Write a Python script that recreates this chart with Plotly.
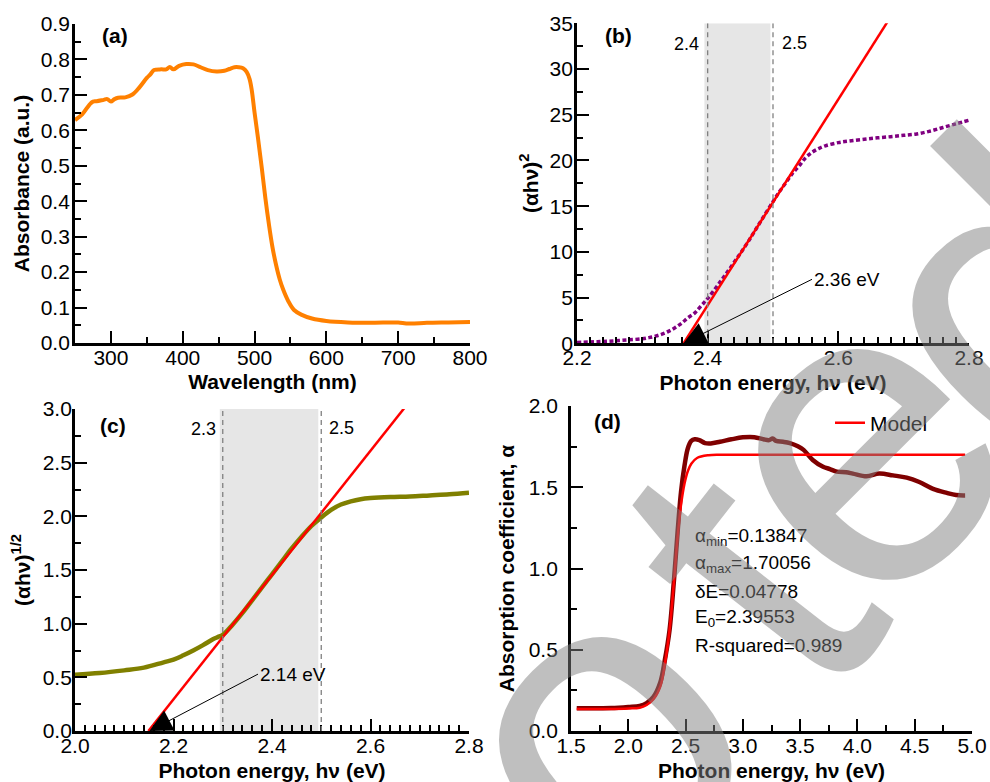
import plotly.graph_objects as go

# ---------------- data ----------------
# (a) absorbance spectrum
wl = [250, 260, 270, 275, 280, 290, 295, 300, 305, 310, 320, 330, 340, 350, 355, 360, 370, 377,
      382, 387, 395, 405, 415, 425, 435, 447, 458, 465, 472, 478, 484, 489, 493, 496, 500, 505,
      510, 515, 520, 525, 530, 535, 540, 547, 555, 565, 580, 600, 630, 660, 690, 700, 715, 740,
      770, 800]
absorb = [0.629, 0.645, 0.672, 0.681, 0.682, 0.686, 0.688, 0.681, 0.688, 0.692, 0.693, 0.701,
          0.722, 0.748, 0.758, 0.770, 0.772, 0.772, 0.779, 0.772, 0.782, 0.787, 0.786, 0.778,
          0.770, 0.766, 0.768, 0.773, 0.778, 0.778, 0.775, 0.765, 0.745, 0.715, 0.650, 0.575,
          0.495, 0.410, 0.335, 0.270, 0.220, 0.180, 0.150, 0.118, 0.093, 0.080, 0.069, 0.062,
          0.058, 0.057, 0.058, 0.058, 0.055, 0.057, 0.058, 0.059]

# (b) direct Tauc plot
e_b = [2.20, 2.22, 2.24, 2.26, 2.28, 2.30, 2.31, 2.32, 2.33, 2.34, 2.35, 2.36, 2.37, 2.38, 2.39,
       2.40, 2.42, 2.44, 2.46, 2.48, 2.50, 2.51, 2.52, 2.53, 2.54, 2.55, 2.56, 2.57, 2.58, 2.60,
       2.62, 2.65, 2.68, 2.70, 2.72, 2.74, 2.76, 2.78, 2.80]
tauc_b = [0.10, 0.15, 0.20, 0.28, 0.38, 0.50, 0.62, 0.78, 1.00, 1.30, 1.70, 2.20, 2.80, 3.30,
          4.10, 4.90, 6.80, 8.80, 10.90, 13.20, 15.50, 16.60, 17.60, 18.60, 19.40, 20.30, 20.90,
          21.30, 21.60, 21.95, 22.15, 22.40, 22.60, 22.75, 22.90, 23.20, 23.60, 24.00, 24.40]
fit_b_x = [2.363, 2.70]
fit_b_y = [0.0, 37.95]

# (c) indirect Tauc plot
e_c = [2.00, 2.05, 2.10, 2.14, 2.18, 2.20, 2.22, 2.24, 2.26, 2.28, 2.29, 2.30, 2.32, 2.34, 2.36,
       2.38, 2.40, 2.42, 2.44, 2.46, 2.48, 2.50, 2.52, 2.54, 2.56, 2.58, 2.60, 2.64, 2.68, 2.72,
       2.76, 2.80]
tauc_c = [0.525, 0.540, 0.565, 0.590, 0.640, 0.665, 0.705, 0.750, 0.800, 0.855, 0.875, 0.895,
          0.990, 1.100, 1.220, 1.340, 1.460, 1.580, 1.700, 1.810, 1.910, 1.990, 2.060, 2.110,
          2.140, 2.160, 2.170, 2.180, 2.185, 2.195, 2.205, 2.220]
fit_c_x = [2.149, 2.70]
fit_c_y = [0.0, 3.19]

# (d) absorption coefficient and sigmoid model
e_d = [1.55, 1.70, 1.85, 2.00, 2.10, 2.16, 2.22, 2.28, 2.32, 2.36, 2.40, 2.43, 2.46, 2.49, 2.52,
       2.55, 2.58, 2.62, 2.67, 2.72, 2.80, 2.90, 3.00, 3.10, 3.18, 3.23, 3.26, 3.29, 3.35, 3.41,
       3.48, 3.53, 3.61, 3.70, 3.76, 3.82, 3.90, 3.96, 4.08, 4.19, 4.31, 4.43, 4.54, 4.66, 4.78,
       4.86, 4.94]
alpha_d = [0.140, 0.140, 0.141, 0.148, 0.155, 0.172, 0.210, 0.300, 0.440, 0.620, 0.940, 1.220,
           1.470, 1.630, 1.740, 1.785, 1.795, 1.790, 1.772, 1.770, 1.780, 1.795, 1.807, 1.808,
           1.795, 1.790, 1.800, 1.785, 1.780, 1.772, 1.752, 1.730, 1.668, 1.626, 1.612, 1.596,
           1.592, 1.584, 1.567, 1.584, 1.573, 1.559, 1.532, 1.490, 1.465, 1.452, 1.450]
e_model = [1.55, 1.80, 2.00, 2.10, 2.16, 2.22, 2.28, 2.32, 2.36, 2.40, 2.43, 2.46, 2.49, 2.52,
           2.55, 2.60, 2.70, 2.80, 3.00, 4.00, 4.94]
alpha_model = [0.135, 0.136, 0.139, 0.143, 0.160, 0.195, 0.275, 0.415, 0.620, 0.930, 1.190,
               1.390, 1.520, 1.600, 1.645, 1.680, 1.697, 1.700, 1.7006, 1.7006, 1.7006]

fit_text = ["α<sub>min</sub>=0.13847", "α<sub>max</sub>=1.70056", "δE=0.04778",
            "E<sub>0</sub>=2.39553", "R-squared=0.989"]

# ---------------- figure ----------------
FONT = "Liberation Sans, Arial, sans-serif"
fig = go.Figure()

fig.add_trace(go.Scatter(x=wl, y=absorb, mode="lines", line=dict(color="#FF8000", width=4, shape="spline"),
                         xaxis="x", yaxis="y", showlegend=False))
fig.add_trace(go.Scatter(x=e_b, y=tauc_b, mode="lines",
                         line=dict(color="#800080", width=3.5, shape="spline", dash="4px,2.5px"),
                         xaxis="x2", yaxis="y2", showlegend=False))
fig.add_trace(go.Scatter(x=fit_b_x, y=fit_b_y, mode="lines", line=dict(color="#FF0000", width=2.5),
                         xaxis="x2", yaxis="y2", showlegend=False))
fig.add_trace(go.Scatter(x=e_c, y=tauc_c, mode="lines", line=dict(color="#808000", width=4.5, shape="spline"),
                         xaxis="x3", yaxis="y3", showlegend=False))
fig.add_trace(go.Scatter(x=fit_c_x, y=fit_c_y, mode="lines", line=dict(color="#FF0000", width=2.5),
                         xaxis="x3", yaxis="y3", showlegend=False))
fig.add_trace(go.Scatter(x=e_d, y=alpha_d, mode="lines", line=dict(color="#7F0000", width=4.5, shape="spline"),
                         xaxis="x4", yaxis="y4", showlegend=False))
fig.add_trace(go.Scatter(x=e_model, y=alpha_model, mode="lines", name="Model",
                         line=dict(color="#FF0000", width=2.5, shape="spline"),
                         xaxis="x4", yaxis="y4", showlegend=True))


def axis(domain, rng, dtick, minor, fmt, title, anchor, tsize=21, standoff=4, lstand=6):
    return dict(domain=domain, range=rng, anchor=anchor, dtick=dtick, tick0=0, automargin=False,
                tickformat=fmt, ticks="inside", ticklen=12, tickwidth=2, tickcolor="black",
                showline=True, linecolor="black", linewidth=2.8, mirror=False,
                showgrid=False, zeroline=False, ticklabelstandoff=lstand,
                tickfont=dict(family=FONT, size=tsize, color="black"),
                minor=dict(dtick=minor, ticks="inside", ticklen=6, tickwidth=2,
                           tickcolor="black", showgrid=False),
                title=dict(text=title, standoff=standoff,
                           font=dict(family=FONT, size=21, color="black", weight="bold")))


H = 782.0
W = 990.0
fig.update_layout(
    width=990, height=782, margin=dict(l=0, r=0, t=0, b=0, autoexpand=False),
    paper_bgcolor="white", plot_bgcolor="rgba(0,0,0,0)",
    xaxis=axis([75 / W, 470 / W], [250, 800], 100, 50, "d", "Wavelength (nm)", "y", standoff=7, lstand=-6),
    yaxis=axis([1 - 343 / H, 1 - 24 / H], [0, 0.9], 0.1, 0.05, ".1f", "Absorbance (a.u.)", "x", standoff=6, lstand=-2),
    xaxis2=axis([577 / W, 969 / W], [2.2, 2.8], 0.2, 0.02, ".1f", "Photon energy, hν (eV)", "y2", standoff=7, lstand=-6),
    yaxis2=axis([1 - 343.3 / H, 1 - 23.3 / H], [0, 35], 5, 2.5, "d", "(αhν)<sup>2</sup>", "x2", standoff=6, lstand=-3),
    xaxis3=axis([75 / W, 469 / W], [2.0, 2.8], 0.2, 0.02, ".1f", "Photon energy, hν (eV)", "y3", standoff=11, lstand=-6),
    yaxis3=axis([1 - 731 / H, 1 - 409 / H], [0, 3], 0.5, 0.25, ".1f", "(αhν)<sup>1/2</sup>", "x3", standoff=7, lstand=-4),
    xaxis4=axis([571 / W, 972 / W], [1.5, 5.0], 0.5, 0.25, ".1f", "Photon energy, hν (eV)", "y4", standoff=9, lstand=-6),
    yaxis4=axis([1 - 731 / H, 1 - 406 / H], [0, 2], 0.5, 0.25, ".1f", "Absorption coefficient, α", "x4", standoff=9, lstand=6),
    legend=dict(x=830 / W, y=1 - 423 / H, xanchor="left", yanchor="middle",
                font=dict(family=FONT, size=21, color="black"), bgcolor="rgba(0,0,0,0)",
                borderwidth=0),
    font=dict(family=FONT, color="black"),
)

# shaded fitting windows and dashed limits
shapes = [
    dict(type="rect", xref="x2", yref="y2", x0=2.395, x1=2.496, y0=0, y1=35,
         fillcolor="#E6E6E6", line=dict(width=0), layer="below"),
    dict(type="line", xref="x2", yref="y2", x0=2.4, x1=2.4, y0=0, y1=35,
         line=dict(color="#808080", width=1.3, dash="5px,4px")),
    dict(type="line", xref="x2", yref="y2", x0=2.5, x1=2.5, y0=0, y1=35,
         line=dict(color="#808080", width=1.3, dash="5px,4px")),
    dict(type="rect", xref="x3", yref="y3", x0=2.294, x1=2.494, y0=0, y1=3,
         fillcolor="#E6E6E6", line=dict(width=0), layer="below"),
    dict(type="line", xref="x3", yref="y3", x0=2.3, x1=2.3, y0=0, y1=3,
         line=dict(color="#808080", width=1.3, dash="5px,4px")),
    dict(type="line", xref="x3", yref="y3", x0=2.5, x1=2.5, y0=0, y1=3,
         line=dict(color="#808080", width=1.3, dash="5px,4px")),
]
fig.update_layout(shapes=shapes)

ann = []
# panel labels
for txt, px, py in [("(a)", 115, 35), ("(b)", 618, 35), ("(c)", 113, 425), ("(d)", 607, 421)]:
    ann.append(dict(text=txt, xref="paper", yref="paper", x=px / W, y=1 - py / H, showarrow=False,
                    xanchor="center", yanchor="middle",
                    font=dict(family=FONT, size=21, color="black", weight="bold")))
# window labels
for txt, px, py in [("2.4", 686, 44), ("2.5", 794, 43), ("2.3", 203, 429), ("2.5", 341, 428)]:
    ann.append(dict(text=txt, xref="paper", yref="paper", x=px / W, y=1 - py / H, showarrow=False,
                    xanchor="center", yanchor="middle",
                    font=dict(family=FONT, size=18, color="black")))
# band gap arrows
ann.append(dict(text="2.36 eV", x=2.363, y=0, xref="x2", yref="y2", ax=2.5597, ay=7.0,
                axref="x2", ayref="y2", xanchor="left", yanchor="middle", showarrow=True,
                arrowhead=2, arrowsize=4.5, arrowwidth=1, arrowcolor="black",
                font=dict(family=FONT, size=19, color="black")))
ann.append(dict(text="2.14 eV", x=2.151, y=0, xref="x3", yref="y3", ax=2.3716, ay=0.53,
                axref="x3", ayref="y3", xanchor="left", yanchor="middle", showarrow=True,
                arrowhead=2, arrowsize=4.5, arrowwidth=1, arrowcolor="black",
                font=dict(family=FONT, size=19, color="black")))
# fit parameters
for i, txt in enumerate(fit_text):
    ann.append(dict(text=txt, xref="paper", yref="paper", x=693 / W, y=1 - (537 + 27 * i) / H,
                    xanchor="left", yanchor="middle", showarrow=False,
                    font=dict(family=FONT, size=19, color="black")))
# watermark letters
for ch, px, py, ang in [("o", 590, 730, -45), ("t", 743, 573, -52), ("e", 848, 440, -45),
                        ("d", 1008, 298, -45)]:
    ann.append(dict(text=ch, xref="paper", yref="paper", x=px / W, y=1 - py / H,
                    xanchor="center", yanchor="middle", showarrow=False, textangle=ang,
                    font=dict(family=FONT, size=430, color="rgba(128,128,128,0.5)")))
fig.update_layout(annotations=ann)

fig.write_html("out.html")
